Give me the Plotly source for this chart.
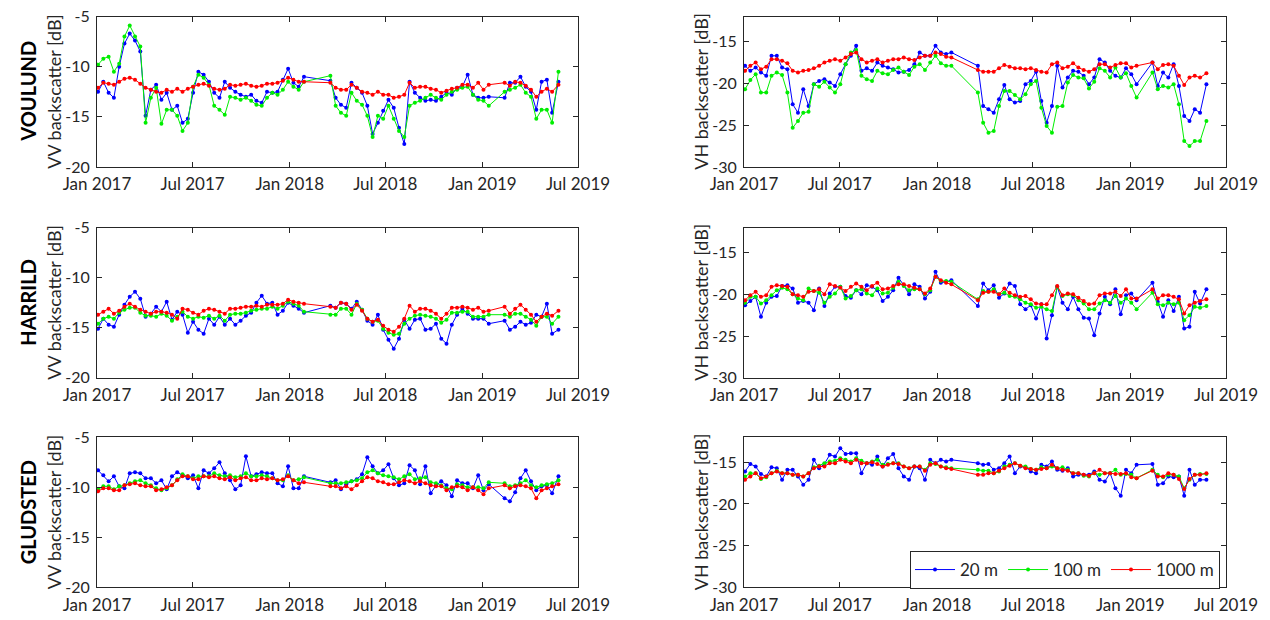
import plotly.graph_objects as go

# Acquisition dates shared by all series (gaps: Feb-Mar 2018, Jan-Feb 2019)
dates = [
    "2017-01-03", "2017-01-13", "2017-01-23", "2017-02-02", "2017-02-12", "2017-02-22",
    "2017-03-04", "2017-03-14", "2017-03-24", "2017-04-03", "2017-04-13", "2017-04-23",
    "2017-05-03", "2017-05-13", "2017-05-23", "2017-06-02", "2017-06-12", "2017-06-22",
    "2017-07-02", "2017-07-12", "2017-07-22", "2017-08-01", "2017-08-11", "2017-08-21",
    "2017-08-31", "2017-09-10", "2017-09-20", "2017-09-30", "2017-10-10", "2017-10-20",
    "2017-10-30", "2017-11-09", "2017-11-19", "2017-11-29", "2017-12-09", "2017-12-19",
    "2017-12-29", "2018-01-08", "2018-01-18", "2018-01-28", "2018-03-19", "2018-03-29",
    "2018-04-08", "2018-04-18", "2018-04-28", "2018-05-08", "2018-05-18", "2018-05-28",
    "2018-06-07", "2018-06-17", "2018-06-27", "2018-07-07", "2018-07-17", "2018-07-27",
    "2018-08-06", "2018-08-16", "2018-08-26", "2018-09-05", "2018-09-15", "2018-09-25",
    "2018-10-05", "2018-10-15", "2018-10-25", "2018-11-04", "2018-11-14", "2018-11-24",
    "2018-12-04", "2018-12-14", "2018-12-24", "2019-01-03", "2019-01-13", "2019-02-12",
    "2019-02-22", "2019-03-04", "2019-03-14", "2019-03-24", "2019-04-03", "2019-04-13",
    "2019-04-23", "2019-05-03", "2019-05-13", "2019-05-25",
]

# VOULUND
voulund_vv_20 = [
    -12.5, -11.5, -12.6, -13.1, -10.0, -7.7, -6.7, -7.4, -8.5, -14.9,
    -12.3, -11.8, -13.3, -12.6, -14.3, -13.9, -15.6, -15.2, -12.6, -10.5,
    -10.8, -11.5, -12.6, -13.1, -11.5, -12.1, -12.5, -12.8, -13.0, -12.8,
    -13.4, -13.6, -12.5, -12.6, -12.5, -11.3, -10.2, -11.6, -12.0, -11.0,
    -11.4, -13.1, -13.8, -14.1, -11.6, -12.1, -12.6, -13.9, -16.7, -15.6,
    -14.4, -13.3, -14.1, -16.1, -17.7, -11.5, -12.6, -13.1, -13.4, -13.3,
    -13.4, -13.0, -12.6, -12.8, -12.1, -12.0, -10.8, -12.8, -13.1, -13.1,
    -13.0, -13.1, -11.6, -11.6, -11.0, -12.0, -12.5, -14.3, -11.5, -11.3,
    -14.6, -11.5,
]
voulund_vv_100 = [
    -9.8, -9.2, -9.0, -10.5, -9.7, -7.0, -5.9, -7.0, -8.0, -15.6,
    -13.1, -12.1, -15.7, -14.3, -14.3, -14.9, -16.4, -15.6, -12.0, -10.8,
    -11.1, -11.8, -13.9, -14.3, -14.8, -13.0, -13.1, -13.3, -13.1, -13.4,
    -13.8, -13.9, -13.1, -12.6, -12.8, -12.3, -11.5, -12.0, -12.3, -11.5,
    -10.9, -13.9, -14.6, -14.9, -12.6, -13.4, -13.8, -14.9, -17.0, -14.9,
    -15.2, -13.9, -15.2, -16.4, -17.0, -13.9, -13.6, -13.4, -13.1, -12.8,
    -13.1, -13.3, -12.8, -12.5, -12.3, -12.1, -12.0, -12.8, -13.3, -13.4,
    -13.9, -12.5, -12.3, -12.1, -11.8, -12.6, -13.0, -15.2, -14.3, -14.3,
    -15.6, -10.5,
]
voulund_vv_1000 = [
    -12.1, -11.6, -11.7, -11.8, -11.5, -11.2, -11.1, -11.3, -11.7, -12.1,
    -12.3, -12.5, -12.6, -12.3, -12.5, -12.2, -12.5, -12.2, -12.0, -11.8,
    -11.7, -11.9, -12.2, -12.3, -12.2, -11.8, -11.9, -11.8, -11.7, -11.9,
    -12.0, -11.9, -11.7, -11.7, -11.6, -11.4, -11.1, -11.3, -11.5, -11.5,
    -11.6, -12.1, -12.3, -12.3, -11.8, -12.1, -12.5, -12.6, -12.8, -12.5,
    -12.8, -12.8, -13.1, -13.0, -12.8, -11.6, -12.1, -12.0, -12.0, -12.2,
    -12.3, -12.6, -12.4, -12.2, -12.1, -11.8, -11.8, -12.1, -11.6, -12.3,
    -11.8, -11.6, -11.9, -11.5, -11.6, -11.9, -12.3, -13.0, -12.5, -12.2,
    -12.5, -11.8,
]
voulund_vh_20 = [
    -17.9, -18.5, -18.1, -18.7, -19.1, -16.7, -16.7, -18.1, -18.3, -22.5,
    -23.5, -20.7, -22.7, -20.1, -19.7, -19.5, -19.9, -20.3, -18.9, -17.7,
    -16.7, -15.5, -18.5, -18.2, -18.5, -17.5, -17.9, -18.1, -18.3, -18.7,
    -18.6, -18.4, -17.7, -16.3, -16.7, -16.7, -15.5, -16.3, -16.5, -16.3,
    -17.9, -22.7, -23.1, -23.5, -21.9, -20.2, -21.9, -22.3, -22.1, -20.1,
    -19.7, -18.6, -22.1, -24.7, -22.7, -17.9, -20.5, -19.3, -18.5, -18.6,
    -19.1, -20.1, -19.3, -17.1, -17.5, -18.5, -19.1, -19.3, -18.2, -18.9,
    -20.1, -17.5, -20.3, -18.7, -19.3, -17.7, -20.3, -23.9, -24.5, -23.1,
    -23.5, -20.1,
]
voulund_vh_100 = [
    -20.7, -19.6, -18.9, -21.1, -21.1, -19.1, -18.7, -19.0, -21.1, -25.3,
    -24.5, -23.5, -23.4, -20.1, -20.4, -19.8, -20.5, -21.1, -20.1, -17.7,
    -16.3, -16.0, -19.1, -19.5, -19.7, -18.5, -18.8, -18.9, -18.4, -18.1,
    -18.6, -19.0, -18.0, -17.7, -18.4, -17.5, -16.7, -17.6, -17.9, -17.9,
    -21.1, -24.7, -25.9, -25.7, -22.7, -20.9, -20.9, -21.4, -21.9, -21.3,
    -20.1, -19.7, -22.9, -25.1, -25.9, -22.8, -22.7, -19.9, -19.0, -19.3,
    -19.4, -20.6, -19.8, -18.2, -18.5, -19.3, -18.1, -19.3, -18.8, -20.3,
    -21.7, -18.7, -20.7, -20.3, -20.5, -20.1, -22.5, -26.9, -27.5, -26.9,
    -26.9, -24.5,
]
voulund_vh_1000 = [
    -18.5, -17.9, -17.5, -18.3, -18.0, -17.1, -17.1, -17.3, -17.6, -18.5,
    -18.7, -18.5, -18.4, -18.2, -17.9, -17.5, -17.3, -17.1, -17.3, -16.9,
    -16.5, -16.3, -17.1, -17.5, -17.3, -17.1, -17.5, -17.3, -17.1, -17.1,
    -16.9, -17.1, -17.2, -16.9, -16.7, -16.7, -16.3, -16.5, -16.8, -16.9,
    -18.4, -18.6, -18.6, -18.6, -18.2, -17.8, -18.0, -18.2, -18.2, -18.3,
    -18.2, -18.4, -18.6, -18.7, -17.7, -17.5, -18.2, -18.0, -17.6, -18.1,
    -18.4, -18.6, -18.3, -17.7, -17.7, -18.1, -17.8, -17.6, -17.6, -18.1,
    -17.9, -17.5, -18.3, -17.8, -17.7, -17.9, -19.1, -20.2, -19.3, -19.1,
    -19.3, -18.8,
]

# HARRILD
harrild_vv_20 = [
    -15.1, -14.1, -14.7, -14.9, -13.7, -12.7, -11.9, -11.4, -12.1, -13.9,
    -13.6, -12.9, -13.4, -12.4, -14.2, -13.4, -13.7, -15.5, -14.4, -15.2,
    -15.6, -14.1, -14.7, -13.9, -14.7, -14.1, -14.7, -14.3, -13.8, -13.5,
    -12.5, -11.8, -12.6, -12.5, -13.7, -13.3, -12.5, -12.8, -13.1, -13.5,
    -12.8, -13.0, -12.5, -12.6, -13.1, -12.4, -13.2, -14.3, -14.7, -13.7,
    -15.2, -16.2, -17.1, -16.1, -14.2, -15.1, -14.2, -14.1, -15.2, -15.1,
    -14.6, -16.1, -16.6, -14.7, -13.7, -13.1, -13.6, -14.1, -14.1, -14.1,
    -14.6, -14.3, -15.2, -14.9, -14.4, -14.7, -14.5, -13.7, -13.9, -12.6,
    -15.6, -15.2,
]
harrild_vv_100 = [
    -14.6, -14.1, -13.9, -14.1, -13.5, -13.2, -13.0, -13.0, -13.5, -13.8,
    -13.8, -13.9, -13.6, -13.8, -14.3, -13.9, -13.4, -13.9, -14.1, -13.9,
    -14.0, -13.8, -14.1, -13.8, -14.3, -13.7, -13.6, -13.6, -13.5, -13.3,
    -13.2, -13.1, -13.1, -12.9, -13.1, -12.8, -12.4, -12.6, -12.8, -13.4,
    -13.7, -13.7, -13.1, -13.1, -13.7, -12.6, -13.2, -14.1, -14.4, -14.3,
    -15.1, -15.5, -15.7, -15.6, -14.6, -14.1, -13.8, -13.7, -13.8, -13.9,
    -14.1, -14.5, -14.2, -13.5, -13.5, -13.4, -13.4, -13.9, -13.9, -13.9,
    -13.7, -13.7, -13.9, -13.6, -13.6, -13.9, -14.2, -14.8, -13.9, -13.9,
    -14.6, -13.9,
]
harrild_vv_1000 = [
    -13.7, -13.4, -13.1, -13.6, -13.3, -12.9, -12.6, -12.9, -13.2, -13.4,
    -13.6, -13.4, -13.4, -13.5, -13.7, -14.1, -13.1, -13.2, -13.5, -13.7,
    -13.3, -13.1, -13.2, -13.4, -13.6, -13.1, -13.1, -13.0, -12.9, -12.9,
    -12.8, -12.9, -12.7, -12.7, -12.7, -12.6, -12.2, -12.4, -12.5, -12.6,
    -12.9, -13.0, -12.5, -12.6, -13.2, -12.7, -13.3, -14.1, -14.4, -14.2,
    -14.8, -15.2, -15.4, -14.9, -14.1, -12.8, -13.4, -13.1, -13.1, -13.3,
    -13.6, -14.1, -13.6, -13.0, -13.0, -12.9, -13.0, -13.2, -13.0, -13.4,
    -13.3, -12.9, -13.6, -13.1, -12.7, -13.2, -13.7, -14.4, -13.9, -13.6,
    -13.8, -13.3,
]
harrild_vh_20 = [
    -21.3, -20.8, -20.3, -22.7, -21.0, -20.3, -20.2, -19.0, -18.9, -19.3,
    -21.0, -20.8, -21.0, -21.9, -19.3, -21.4, -19.9, -19.1, -19.1, -20.2,
    -20.4, -19.5, -20.0, -18.9, -19.1, -19.5, -20.8, -20.3, -19.5, -18.0,
    -18.9, -20.0, -18.8, -19.1, -20.5, -19.7, -17.3, -18.6, -18.5, -18.3,
    -21.4, -18.7, -19.5, -18.9, -20.4, -19.9, -18.7, -19.0, -21.2, -21.8,
    -21.3, -22.9, -21.2, -25.3, -22.5, -19.1, -21.0, -21.8, -20.3, -21.8,
    -22.8, -22.9, -24.9, -22.3, -20.3, -21.2, -19.4, -22.4, -20.1, -19.9,
    -20.7, -18.6, -20.9, -22.7, -20.7, -22.0, -20.3, -24.1, -23.9, -19.7,
    -21.1, -19.4,
]
harrild_vh_100 = [
    -21.0, -20.3, -20.3, -21.1, -20.7, -20.1, -19.5, -19.2, -19.4, -20.0,
    -20.5, -20.7, -19.3, -19.6, -19.8, -21.0, -20.3, -19.9, -19.1, -20.5,
    -20.2, -19.5, -19.4, -19.9, -20.1, -19.3, -19.9, -19.8, -19.2, -18.5,
    -19.0, -19.5, -19.4, -19.4, -20.0, -19.5, -17.9, -18.4, -18.4, -18.5,
    -20.6, -19.6, -19.7, -19.4, -20.0, -19.8, -20.2, -20.3, -20.6, -21.0,
    -21.2, -21.6, -21.5, -21.8, -22.0, -19.1, -20.2, -20.0, -20.1, -20.7,
    -21.1, -21.8, -21.8, -21.1, -20.7, -21.0, -20.2, -21.0, -20.5, -21.0,
    -21.8, -19.8, -21.2, -21.3, -21.0, -21.2, -21.0, -23.1, -22.5, -21.5,
    -21.6, -21.4,
]
harrild_vh_1000 = [
    -20.7, -20.1, -19.7, -20.3, -20.1, -19.1, -18.9, -19.0, -19.1, -20.0,
    -20.1, -20.3, -19.7, -19.6, -19.4, -20.0, -18.8, -19.0, -19.2, -19.6,
    -19.1, -18.7, -19.1, -19.5, -19.0, -18.6, -19.4, -19.3, -19.0, -18.8,
    -18.8, -19.0, -19.2, -19.4, -19.9, -19.3, -17.9, -18.3, -18.6, -18.8,
    -20.7, -19.8, -19.7, -19.7, -20.0, -19.3, -19.8, -20.1, -20.3, -20.2,
    -20.6, -21.1, -21.2, -21.2, -20.1, -19.0, -20.1, -19.9, -20.0, -20.4,
    -20.8, -21.2, -21.1, -20.1, -19.9, -19.9, -19.7, -20.2, -19.4, -20.5,
    -20.5, -19.4, -20.5, -20.1, -20.1, -20.3, -20.6, -22.3, -21.3, -21.0,
    -20.8, -20.6,
]

# GLUDSTED
gludsted_vv_20 = [
    -8.3, -8.8, -9.4, -8.9, -9.9, -10.1, -8.6, -8.5, -8.6, -9.1,
    -9.1, -9.6, -9.3, -10.2, -8.9, -8.5, -8.8, -9.1, -8.8, -10.1,
    -8.3, -8.6, -8.1, -7.5, -8.6, -9.3, -10.2, -9.8, -6.9, -8.9,
    -8.7, -8.5, -8.6, -8.6, -9.6, -9.9, -7.9, -10.1, -10.1, -8.9,
    -9.5, -9.3, -10.2, -9.7, -9.4, -9.2, -8.7, -7.0, -7.9, -8.6,
    -8.3, -7.7, -9.1, -9.8, -9.6, -7.8, -8.3, -9.7, -7.9, -10.6,
    -9.8, -9.4, -9.8, -10.9, -9.3, -9.6, -9.6, -10.1, -8.8, -10.3,
    -9.7, -11.1, -11.4, -10.5, -9.1, -8.3, -9.4, -10.3, -9.9, -9.8,
    -10.6, -8.9,
]
gludsted_vv_100 = [
    -10.2, -9.9, -9.9, -10.2, -9.9, -9.8, -9.6, -9.4, -9.3, -9.6,
    -9.8, -10.1, -10.3, -10.1, -9.8, -9.2, -8.7, -8.9, -9.1, -8.9,
    -8.9, -8.9, -8.6, -8.8, -8.9, -8.8, -9.0, -8.9, -8.6, -8.9,
    -8.9, -8.8, -8.9, -9.1, -9.3, -9.3, -8.8, -9.3, -9.2, -9.0,
    -9.6, -9.6, -9.6, -9.5, -9.4, -9.3, -9.1, -8.5, -8.3, -8.6,
    -8.8, -8.9, -9.0, -9.2, -8.9, -8.7, -9.2, -9.1, -9.0, -9.5,
    -9.6, -9.8, -10.1, -10.2, -9.7, -9.8, -10.0, -10.0, -10.0, -10.1,
    -9.5, -9.6, -9.9, -9.8, -9.6, -9.3, -9.8, -10.0, -9.8, -9.7,
    -9.6, -9.3,
]
gludsted_vv_1000 = [
    -10.4, -10.1, -10.1, -10.3, -10.3, -9.8, -9.7, -9.6, -9.8, -9.9,
    -9.9, -10.3, -10.2, -10.0, -9.8, -9.3, -8.9, -8.9, -9.2, -9.2,
    -8.9, -9.0, -8.9, -9.1, -9.2, -9.0, -9.3, -9.1, -9.0, -9.3,
    -9.3, -9.1, -9.2, -9.1, -9.3, -9.2, -8.9, -9.3, -9.6, -9.5,
    -9.9, -9.9, -10.1, -9.9, -10.2, -9.8, -9.4, -9.0, -9.1, -9.4,
    -9.5, -9.7, -9.7, -9.5, -9.3, -9.4, -9.6, -9.4, -9.6, -9.8,
    -9.9, -9.9, -10.3, -10.0, -9.9, -10.0, -10.3, -10.0, -10.3, -10.7,
    -10.1, -9.8, -10.1, -9.9, -9.8, -9.9, -10.1, -11.1, -10.3, -10.1,
    -9.9, -9.7,
]
gludsted_vh_20 = [
    -16.1, -15.2, -15.5, -16.4, -16.7, -15.6, -15.7, -17.1, -15.9, -15.9,
    -16.7, -17.7, -17.1, -14.7, -15.7, -15.2, -14.1, -14.3, -13.3, -14.0,
    -13.9, -13.9, -16.3, -15.1, -15.3, -14.3, -15.5, -14.5, -14.0, -15.7,
    -16.7, -17.1, -15.5, -15.7, -17.1, -14.7, -15.1, -14.7, -14.9, -14.7,
    -15.1, -15.3, -15.2, -15.9, -15.7, -15.1, -14.3, -16.3, -15.5, -15.6,
    -16.1, -16.3, -15.3, -15.5, -14.9, -15.9, -16.0, -15.7, -16.7, -16.5,
    -16.5, -16.5, -16.1, -17.1, -17.3, -16.3, -18.1, -19.0, -15.9, -16.3,
    -15.3, -15.2, -17.7, -17.5, -16.7, -16.8, -16.7, -19.0, -15.9, -17.7,
    -17.1, -17.1,
]
gludsted_vh_100 = [
    -16.7, -16.3, -16.3, -17.0, -16.8, -16.3, -16.0, -16.3, -16.3, -16.5,
    -16.5, -16.7, -16.3, -15.6, -15.4, -15.1, -14.9, -14.8, -14.5, -14.7,
    -14.9, -14.5, -14.8, -15.1, -14.9, -14.7, -15.3, -15.2, -15.1, -15.1,
    -15.5, -15.7, -15.5, -15.5, -15.9, -15.1, -15.2, -15.5, -15.6, -15.7,
    -15.9, -16.0, -16.0, -16.3, -16.1, -15.5, -15.3, -15.1, -15.4, -15.5,
    -15.8, -15.9, -15.6, -15.7, -15.5, -15.7, -15.6, -15.9, -16.3, -16.3,
    -16.6, -16.7, -16.3, -16.5, -16.3, -16.3, -15.9, -16.5, -16.4, -16.5,
    -16.9, -15.9, -16.5, -16.8, -16.5, -16.5, -16.7, -18.1, -17.1, -16.5,
    -16.4, -16.4,
]
gludsted_vh_1000 = [
    -17.1, -16.7, -16.3, -16.9, -16.7, -16.3, -16.1, -16.3, -16.3, -16.5,
    -16.5, -16.7, -16.3, -15.7, -15.5, -15.5, -15.1, -15.1, -14.7, -14.9,
    -15.1, -14.7, -15.1, -15.1, -15.0, -15.2, -15.5, -15.3, -15.1, -15.2,
    -15.5, -15.7, -15.5, -15.5, -16.0, -15.3, -15.1, -15.5, -15.7, -15.8,
    -16.5, -16.5, -16.3, -16.3, -16.0, -15.7, -15.4, -15.1, -15.4, -15.7,
    -15.8, -15.9, -15.8, -15.7, -15.3, -15.7, -15.9, -16.0, -16.3, -16.3,
    -16.5, -16.6, -16.3, -15.9, -16.3, -16.3, -16.4, -16.4, -16.3, -16.8,
    -16.9, -16.0, -16.7, -16.7, -16.3, -16.5, -17.0, -18.2, -17.0, -16.5,
    -16.5, -16.3,
]

sites = ["VOULUND", "HARRILD", "GLUDSTED"]
series_names = ["20 m", "100 m", "1000 m"]
series_colors = ["#0000ff", "#00ee00", "#ff0000"]
x_tick_dates = ["2017-01-01", "2017-07-01", "2018-01-01", "2018-07-01", "2019-01-01", "2019-07-01"]
x_tick_text = ["Jan 2017", "Jul 2017", "Jan 2018", "Jul 2018", "Jan 2019", "Jul 2019"]
vv_ticks = [-20, -15, -10, -5]
vh_ticks = [-30, -25, -20, -15]

panels = [
    [voulund_vv_20, voulund_vv_100, voulund_vv_1000],
    [voulund_vh_20, voulund_vh_100, voulund_vh_1000],
    [harrild_vv_20, harrild_vv_100, harrild_vv_1000],
    [harrild_vh_20, harrild_vh_100, harrild_vh_1000],
    [gludsted_vv_20, gludsted_vv_100, gludsted_vv_1000],
    [gludsted_vh_20, gludsted_vh_100, gludsted_vh_1000],
]

W, H = 1270, 620
col_px = [(97, 578), (744, 1226)]
row_px = [(16.5, 167), (227.7, 377.7), (437.3, 587.3)]
FONT = "Lato, 'Open Sans', sans-serif"
INK = "#262626"

fig = go.Figure()
layout = {}
for k, panel in enumerate(panels):
    r, c = divmod(k, 2)
    ax = "" if k == 0 else str(k + 1)
    for s, values in enumerate(panel):
        fig.add_trace(go.Scatter(
            x=dates, y=values, mode="lines+markers",
            name=series_names[s], legendgroup=series_names[s], showlegend=(k == 0),
            line=dict(color=series_colors[s], width=1),
            marker=dict(color=series_colors[s], size=4),
            xaxis="x" + ax, yaxis="y" + ax,
        ))
    x0, x1 = col_px[c]
    y0, y1 = row_px[r]
    common = dict(showline=True, linecolor=INK, linewidth=1, mirror="ticks",
                  ticks="inside", ticklen=5, tickcolor=INK, showgrid=False,
                  zeroline=False, automargin=False)
    layout["xaxis" + ax] = dict(
        domain=[x0 / W, x1 / W], anchor="y" + ax,
        range=["2017-01-01", "2019-07-01"], tickmode="array",
        tickvals=x_tick_dates, ticktext=x_tick_text, ticklabelstandoff=2,
        tickfont=dict(family=FONT, size=17, color=INK), **common)
    ticks = vv_ticks if c == 0 else vh_ticks
    layout["yaxis" + ax] = dict(
        domain=[1 - y1 / H, 1 - y0 / H], anchor="x" + ax,
        range=[-20, -5] if c == 0 else [-30, -12], tickmode="array",
        tickvals=ticks, ticktext=[str(t) for t in ticks], ticklabelstandoff=3,
        tickfont=dict(family=FONT, size=16, color=INK), **common)

annotations = []
for r in range(3):
    yc = 1 - (row_px[r][0] + row_px[r][1]) / 2 / H
    annotations.append(dict(
        text="<b>%s</b>" % sites[r], x=28 / W, y=yc, xref="paper", yref="paper",
        textangle=-90, showarrow=False, xanchor="center", yanchor="middle",
        font=dict(family=FONT, size=20, color="#000000")))
    for c, (label, xc) in enumerate([("VV backscatter [dB]", 54), ("VH backscatter [dB]", 701)]):
        annotations.append(dict(
            text=label, x=xc / W, y=yc, xref="paper", yref="paper",
            textangle=-90, showarrow=False, xanchor="center", yanchor="middle",
            font=dict(family=FONT, size=18, color=INK)))

fig.update_layout(
    width=W, height=H, margin=dict(l=0, r=0, t=0, b=0, autoexpand=False),
    paper_bgcolor="white", plot_bgcolor="white",
    font=dict(family=FONT, size=16, color=INK),
    annotations=annotations,
    legend=dict(orientation="h", x=910 / W, y=1 - 551 / H, xanchor="left", yanchor="top",
                bgcolor="white", bordercolor=INK, borderwidth=1, itemwidth=40,
                font=dict(family=FONT, size=17, color=INK)),
    **layout,
)

fig.write_html("out.html")
